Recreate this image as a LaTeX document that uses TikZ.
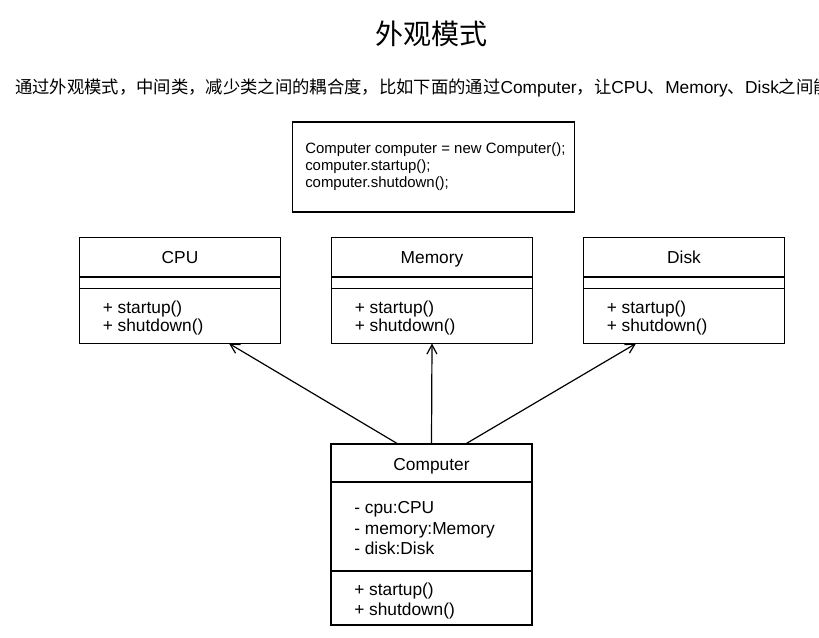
\documentclass[tikz,border=0pt]{standalone}
\usepackage{fontspec}
\setmainfont{Liberation Sans}
\newfontfamily\cjk{Noto Sans CJK SC}
\usetikzlibrary{arrows.meta,calc}

\tikzset{
  classbox/.style={draw,line width=0.9pt,anchor=north west,inner sep=0pt,outer sep=0pt,minimum width=150.75pt},
  divider/.style={line width=0.9pt},
  classname/.style={anchor=base,inner sep=0pt,font=\fontsize{13}{15}\selectfont},
  member/.style={anchor=base west,inner sep=0pt,font=\fontsize{13}{15}\selectfont},
  codeline/.style={anchor=base west,inner sep=0pt,font=\fontsize{11.2}{13}\selectfont},
  uses/.style={line width=0.9pt,-{Straight Barb[length=7pt,width=7.5pt]}},
}

\begin{document}
\begin{tikzpicture}[x=0.75pt,y=-0.75pt]

\useasboundingbox (0,0) rectangle (819,638);

% title and intro line
\node[inner sep=0pt,font=\cjk\fontsize{21}{25}\selectfont] (title) at (431,34) {外观模式};
\node[anchor=base west,inner sep=0pt,font=\fontsize{13}{15}\selectfont] (intro) at (15,93.5)
  {{\cjk 通过外观模式，中间类，减少类之间的耦合度，比如下面的通过}Computer{\cjk ，让}CPU{\cjk 、}Memory{\cjk 、}Disk{\cjk 之间能}};

% client code
\node[draw,line width=0.9pt,anchor=north west,inner sep=0pt,minimum width=211.5pt,minimum height=67.5pt] (code) at (291.5,121.5) {};
\node[codeline] (code-new) at (305,153.5) {Computer computer = new Computer();};
\node[codeline] (code-start) at (305,170.3) {computer.startup();};
\node[codeline] (code-stop) at (305,187.3) {computer.shutdown();};

% subsystem classes
\foreach \x/\nm/\lbl in {79.5/cpu/CPU, 331.5/memory/Memory, 583.5/disk/Disk} {
\node[classbox,minimum height=79.5pt] (\nm) at (\x,237.5) {};
\draw[divider] (\nm.north west) ++(0,39.5) -- ++(201,0);
\draw[divider] (\nm.north west) ++(0,51) -- ++(201,0);
\node[classname] (\nm-name) at ({\x+100.5},263.5) {\lbl};
\node[member] (\nm-start) at ({\x+23},314) {+ startup()};
\node[member] (\nm-stop) at ({\x+23},332) {+ shutdown()};
}

% facade
\node[classbox,minimum height=135.75pt] (computer) at (331,444) {};
\draw[divider] (computer.north west) ++(0,38) -- ++(201,0);
\draw[divider] (computer.north west) ++(0,127) -- ++(201,0);
\node[classname] (computer-name) at (431.5,470) {Computer};
\node[member] (computer-cpu) at (354,513.5) {- cpu:CPU};
\node[member] (computer-memory) at (354,534) {- memory:Memory};
\node[member] (computer-disk) at (354,554.5) {- disk:Disk};
\node[member] (computer-start) at (354,595.5) {+ startup()};
\node[member] (computer-stop) at (354,615.5) {+ shutdown()};

% associations
\draw[uses] ($(computer.north)+(-33.5,0)$) -- ($(cpu.south)+(49,0)$);
\draw[uses] (computer.north) -- (memory.south);
\draw[uses] ($(computer.north)+(34,0)$) -- ($(disk.south)+(-48,0)$);

\end{tikzpicture}
\end{document}
